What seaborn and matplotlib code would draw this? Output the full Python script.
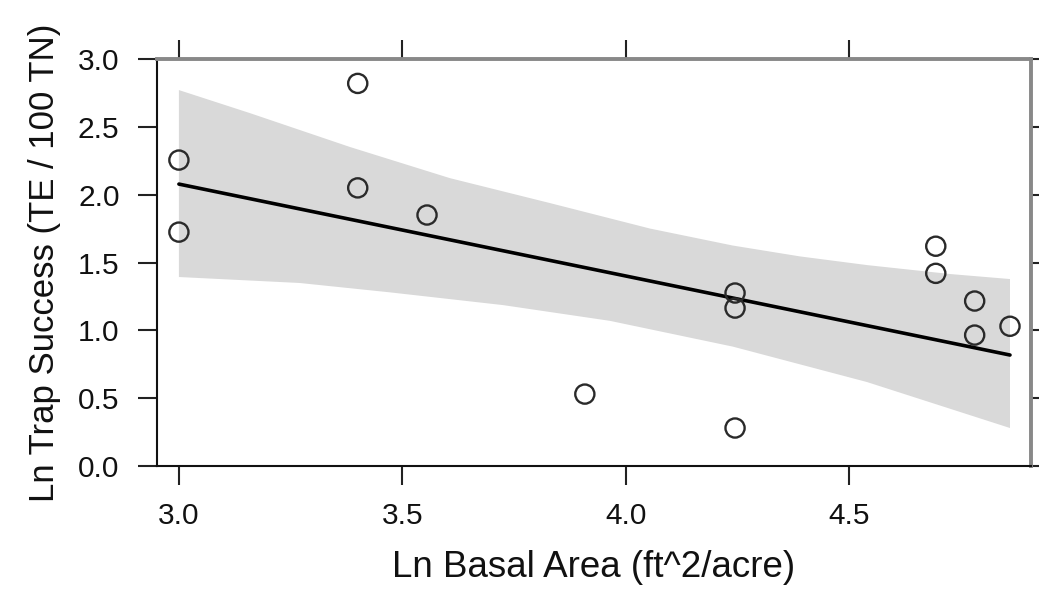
import matplotlib
matplotlib.use("Agg")
import matplotlib.pyplot as plt
import seaborn as sns
import pandas as pd
import numpy as np

basal_area = [3.00, 3.00, 3.40, 3.40, 3.555, 3.908, 4.244, 4.244, 4.244, 4.693, 4.693, 4.78, 4.78, 4.859]
trap_success = [2.255, 1.724, 2.82, 2.05, 1.85, 0.53, 1.275, 1.164, 0.28, 1.62, 1.42, 1.216, 0.965, 1.03]

# Fitted line
fit_x = [3.0, 4.859]
fit_y = [2.078, 0.818]

# Confidence band edges
upper_x = [3.0, 3.159, 3.383, 3.606, 3.830, 4.054, 4.239, 4.389, 4.539, 4.725, 4.859]
upper_y = [2.771, 2.601, 2.351, 2.122, 1.938, 1.750, 1.625, 1.545, 1.481, 1.415, 1.378]
lower_x = [3.0, 3.27, 3.472, 3.725, 3.964, 4.239, 4.539, 4.859]
lower_y = [1.393, 1.349, 1.280, 1.186, 1.070, 0.880, 0.619, 0.280]

x_ticks = [3.0, 3.5, 4.0, 4.5]
y_ticks = [0.0, 0.5, 1.0, 1.5, 2.0, 2.5, 3.0]

pts = pd.DataFrame({"ba": basal_area, "ts": trap_success})
fit = pd.DataFrame({"ba": fit_x, "ts": fit_y})

sns.set_style("white")
plt.rcParams["font.family"] = ["Liberation Sans", "DejaVu Sans"]

fig = plt.figure(figsize=(10.39, 5.94), dpi=100)
ax = fig.add_axes([157/1039, 1-466/594, (1031-157)/1039, (466-59)/594])

band_x = list(upper_x) + list(lower_x)[::-1]
band_y = list(upper_y) + list(lower_y)[::-1]
ax.fill(band_x, band_y, color="#d9d9d9", lw=0, zorder=1)

sns.lineplot(data=fit, x="ba", y="ts", ax=ax, color="black", lw=2.6, zorder=3)
sns.scatterplot(data=pts, x="ba", y="ts", ax=ax, s=190, facecolors="none",
                edgecolor="#2a2a2a", linewidth=1.7, zorder=4)

ax.set_xlim(2.951, 4.906)
ax.set_ylim(0, 3.0)
ax.set_xticks(x_ticks)
ax.set_xticklabels([f"{v:.1f}" for v in x_ticks])
ax.set_yticks(y_ticks)
ax.set_yticklabels([f"{v:.1f}" for v in y_ticks])

ax.tick_params(axis="both", direction="out", length=14, width=1.5, colors="#222222",
               labelsize=21.5, labelcolor="#111111", pad=12,
               top=True, right=True, bottom=True, left=True,
               labeltop=False, labelright=False)
ax.tick_params(axis="y", pad=13)

for side in ["left", "bottom"]:
    ax.spines[side].set_color("#111111")
    ax.spines[side].set_linewidth(1.5)
for side in ["top", "right"]:
    ax.spines[side].set_color("#888888")
    ax.spines[side].set_linewidth(2.8)
    ax.spines[side].set_visible(True)

ax.set_xlabel("Ln Basal Area (ft^2/acre)", fontsize=26.5, color="#111111", labelpad=14)
ax.set_ylabel("Ln Trap Success (TE / 100 TN)", fontsize=25, color="#111111", labelpad=12)

fig.savefig("out.png", dpi=100)
